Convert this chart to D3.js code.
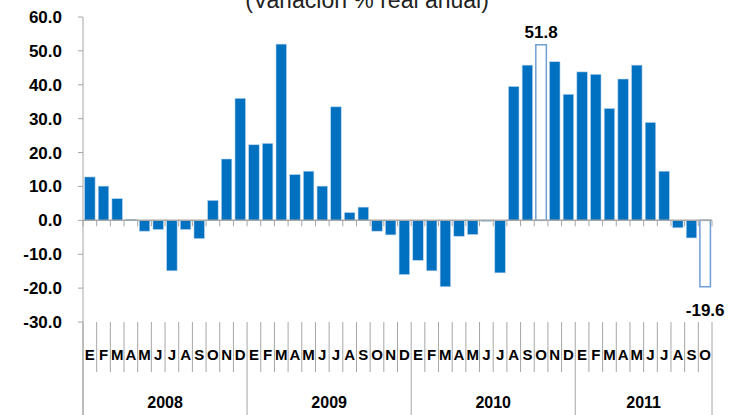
<!DOCTYPE html>
<html>
<head>
<meta charset="utf-8">
<script src="https://cdn.jsdelivr.net/npm/d3@7"></script>
<style>
  body { margin: 0; background: #fff; }
  svg { display: block; font-family: "Liberation Sans", Arial, sans-serif; }
</style>
</head>
<body>
<svg id="chart"></svg>
<script>
var years = ["2008", "2009", "2010", "2011"];
var monthLetters = ["E", "F", "M", "A", "M", "J", "J", "A", "S", "O", "N", "D"];
var monthsPerYear = [12, 12, 12, 10];

var values2008 = [12.8, 10.1, 6.4, 0.3, -3.2, -2.7, -14.9, -2.7, -5.4, 5.9, 18.1, 36.0];
var values2009 = [22.3, 22.7, 52.0, 13.5, 14.5, 10.1, 33.5, 2.3, 3.9, -3.2, -4.3, -16.0];
var values2010 = [-11.8, -14.9, -19.6, -4.7, -4.2, -0.3, -15.5, 39.5, 45.8, 51.8, 46.8, 37.2];
var values2011 = [43.8, 43.1, 33.0, 41.7, 45.8, 28.9, 14.5, -2.2, -5.2, -19.6];

var yTicks = [60, 50, 40, 30, 20, 10, 0, -10, -20, -30];
var highlighted = [33, 45];   // octubre 2010 y octubre 2011

var width = 729, height = 415;
var svg = d3.select("#chart").attr("width", width).attr("height", height);

// build the flat series
var data = [];
[values2008, values2009, values2010, values2011].forEach((vals, yi) => {
    vals.forEach((v, mi) => {
        data.push({ year: years[yi], month: monthLetters[mi], value: v, i: data.length });
    });
});

var x = d3.scaleBand()
    .domain(data.map(d => d.i))
    .range([83, 712])
    .paddingInner(0.23)
    .paddingOuter(0.115);

var y = d3.scaleLinear().domain([-30, 60]).range([322, 17]);

var step = x.step();
var x0 = x.range()[0];
var grey = "#a6a6a6";

// title (top half sits outside the picture, as in the original)
svg.append("text")
    .attr("x", 367)
    .attr("y", 8)
    .attr("font-size", "23px")
    .attr("text-anchor", "middle")
    .attr("fill", "#222")
    .text("(Variación % real anual)");

// y axis
svg.append("line")
    .attr("x1", x0).attr("x2", x0)
    .attr("y1", y(60)).attr("y2", height)
    .attr("stroke", grey).attr("stroke-width", 1);

svg.selectAll(".ytick")
    .data(yTicks)
    .enter()
    .append("line")
    .classed("ytick", true)
    .attr("x1", x0 - 5).attr("x2", x0)
    .attr("y1", d => y(d)).attr("y2", d => y(d))
    .attr("stroke", grey);

svg.selectAll(".ylabel")
    .data(yTicks)
    .enter()
    .append("text")
    .classed("ylabel", true)
    .attr("x", 62)
    .attr("y", d => y(d) + 6)
    .attr("text-anchor", "end")
    .attr("font-size", "17px")
    .attr("font-weight", "bold")
    .attr("fill", "#000")
    .text(d => d.toFixed(1));

// bars
svg.selectAll(".bar")
    .data(data)
    .enter()
    .append("rect")
    .classed("bar", true)
    .attr("x", d => x(d.i))
    .attr("width", x.bandwidth())
    .attr("y", d => y(Math.max(0, d.value)))
    .attr("height", d => Math.abs(y(d.value) - y(0)))
    .attr("fill", d => highlighted.includes(d.i) ? "#fff" : "#0070c0")
    .attr("stroke", d => highlighted.includes(d.i) ? "#6f9fd4" : "#bcd4ee")
    .attr("stroke-width", d => highlighted.includes(d.i) ? 1.5 : 0.6);

// zero line with ticks at category boundaries
var boundaries = d3.range(data.length + 1);
svg.append("line")
    .attr("x1", x0).attr("x2", x0 + step * data.length)
    .attr("y1", y(0)).attr("y2", y(0))
    .attr("stroke", grey).attr("stroke-width", 1.5);

svg.selectAll(".ztick")
    .data(boundaries)
    .enter()
    .append("line")
    .classed("ztick", true)
    .attr("x1", d => x0 + d * step).attr("x2", d => x0 + d * step)
    .attr("y1", y(0)).attr("y2", y(0) + 6)
    .attr("stroke", grey);

// category boundary lines at the bottom
var yearStarts = [0];
monthsPerYear.forEach(n => yearStarts.push(yearStarts[yearStarts.length - 1] + n));

svg.selectAll(".mline")
    .data(boundaries)
    .enter()
    .append("line")
    .classed("mline", true)
    .attr("x1", d => x0 + d * step).attr("x2", d => x0 + d * step)
    .attr("y1", y(-30)).attr("y2", d => yearStarts.includes(d) ? height : 372)
    .attr("stroke", grey);

// month letters
svg.selectAll(".mlabel")
    .data(data)
    .enter()
    .append("text")
    .classed("mlabel", true)
    .attr("x", d => x(d.i) + x.bandwidth() / 2)
    .attr("y", 360)
    .attr("text-anchor", "middle")
    .attr("font-size", "15px")
    .attr("font-weight", "bold")
    .text(d => d.month);

// year labels
svg.selectAll(".yearlabel")
    .data(years)
    .enter()
    .append("text")
    .classed("yearlabel", true)
    .attr("x", (d, i) => x0 + step * (yearStarts[i] + yearStarts[i + 1]) / 2)
    .attr("y", 408)
    .attr("text-anchor", "middle")
    .attr("font-size", "16px")
    .attr("font-weight", "bold")
    .text(d => d);

// value labels for highlighted bars
svg.selectAll(".vlabel")
    .data(data.filter(d => highlighted.includes(d.i)))
    .enter()
    .append("text")
    .classed("vlabel", true)
    .attr("x", d => x(d.i) + x.bandwidth() / 2)
    .attr("y", d => d.value >= 0 ? y(d.value) - 7 : y(d.value) + 29)
    .attr("text-anchor", "middle")
    .attr("font-size", "17px")
    .attr("font-weight", "bold")
    .text(d => d.value.toFixed(1));
</script>
</body>
</html>
